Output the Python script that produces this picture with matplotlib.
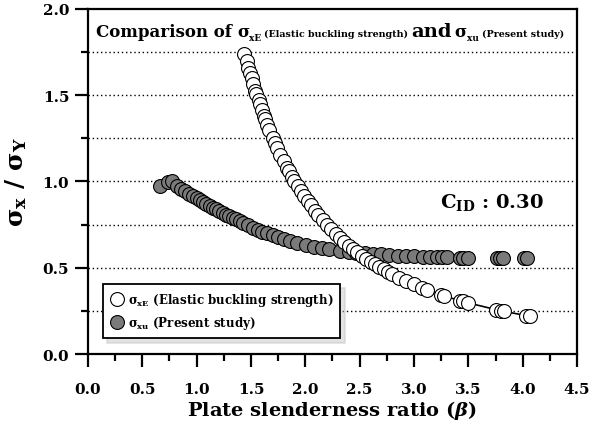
import numpy as np
import matplotlib
matplotlib.use('Agg')
import matplotlib.pyplot as plt
import matplotlib.transforms as mtransforms
from matplotlib.ticker import MultipleLocator

plt.rcParams['font.family'] = 'DejaVu Serif'
plt.rcParams['font.weight'] = 'bold'
plt.rcParams['mathtext.fontset'] = 'dejavuserif'

# sigma_xu / sigma_Y (present study)
beta_xu = [0.66, 0.74, 0.77, 0.82, 0.86, 0.89, 0.93, 0.97, 1.00, 1.03, 1.06, 1.09, 1.12, 1.15,
           1.18, 1.21, 1.24, 1.27, 1.30, 1.33, 1.36, 1.40, 1.43, 1.47, 1.52, 1.56, 1.60, 1.65,
           1.70, 1.75, 1.80, 1.86, 1.92, 2.01, 2.08, 2.15, 2.22, 2.32, 2.40, 2.47, 2.55, 2.62,
           2.70, 2.77, 2.85, 2.93, 3.00, 3.08, 3.15, 3.21, 3.26, 3.30, 3.42, 3.45, 3.50,
           3.76, 3.79, 3.82, 4.01, 4.04]
sig_xu = [0.975, 0.995, 1.000, 0.972, 0.955, 0.945, 0.930, 0.916, 0.903, 0.892, 0.880, 0.868,
          0.858, 0.848, 0.838, 0.828, 0.818, 0.808, 0.798, 0.788, 0.780, 0.770, 0.760, 0.748,
          0.730, 0.720, 0.710, 0.700, 0.690, 0.680, 0.668, 0.655, 0.645, 0.630, 0.622, 0.614,
          0.607, 0.600, 0.593, 0.588, 0.583, 0.580, 0.577, 0.574, 0.571, 0.568, 0.566, 0.565,
          0.563, 0.562, 0.561, 0.560, 0.558, 0.558, 0.557, 0.555, 0.555, 0.555, 0.555, 0.555]

# sigma_xE / sigma_Y (elastic buckling strength)
beta_xE = [1.435, 1.46, 1.47, 1.49, 1.51, 1.52, 1.54, 1.55, 1.57, 1.58, 1.60, 1.62, 1.63, 1.65,
           1.67, 1.70, 1.72, 1.74, 1.77, 1.80, 1.83, 1.85, 1.88, 1.90, 1.93, 1.96, 1.99, 2.02,
           2.05, 2.09, 2.12, 2.16, 2.20, 2.24, 2.28, 2.32, 2.36, 2.40, 2.44, 2.48, 2.52, 2.56,
           2.60, 2.64, 2.68, 2.72, 2.76, 2.80, 2.86, 2.93, 3.00, 3.07, 3.12, 3.25, 3.28,
           3.42, 3.45, 3.50, 3.75, 3.80, 3.83, 4.03, 4.07]
sig_xE = [1.739, 1.700, 1.660, 1.630, 1.600, 1.565, 1.525, 1.505, 1.470, 1.450, 1.415, 1.380,
          1.360, 1.330, 1.300, 1.250, 1.225, 1.195, 1.155, 1.120, 1.080, 1.060, 1.025, 1.003,
          0.975, 0.945, 0.915, 0.888, 0.862, 0.830, 0.805, 0.777, 0.750, 0.722, 0.697, 0.673,
          0.650, 0.628, 0.608, 0.589, 0.570, 0.552, 0.536, 0.520, 0.505, 0.490, 0.476, 0.462,
          0.443, 0.422, 0.403, 0.384, 0.372, 0.343, 0.336, 0.310, 0.305, 0.296, 0.258,
          0.251, 0.247, 0.223, 0.219]

fig = plt.figure(figsize=(5.92, 4.27), dpi=100)
ax = fig.add_axes([0.1486, 0.1686, 0.8261, 0.808])

ax.plot(beta_xu, sig_xu, 'o', ms=10, mfc='#7a7a7a', mec='black', mew=0.8,
        label=r'$\mathbf{\sigma_{xu}}$ (Present study)', zorder=3)
ax.plot(beta_xE, sig_xE, '-', color='black', lw=1.2, zorder=4)
ax.plot(beta_xE, sig_xE, 'o', ms=10, mfc='white', mec='black', mew=0.8,
        label=r'$\mathbf{\sigma_{xE}}$ (Elastic buckling strength)', zorder=5)

ax.set_xlim(0, 4.5)
ax.set_ylim(0, 2.0)
ax.xaxis.set_major_locator(MultipleLocator(0.5))
ax.xaxis.set_minor_locator(MultipleLocator(0.25))
ax.yaxis.set_major_locator(MultipleLocator(0.5))
ax.yaxis.set_minor_locator(MultipleLocator(0.25))
ax.xaxis.set_major_formatter(matplotlib.ticker.FormatStrFormatter('%.1f'))
ax.yaxis.set_major_formatter(matplotlib.ticker.FormatStrFormatter('%.1f'))
ax.tick_params(which='major', direction='out', length=9.5, width=1.6, labelsize=11, pad=4)
ax.tick_params(which='minor', direction='out', length=5, width=1.6)
ax.tick_params(axis='x', which='major', pad=11)
for s in ax.spines.values():
    s.set_linewidth(1.6)

for g in np.arange(0.25, 2.0, 0.25):
    ax.axhline(g, color='black', lw=1.0, ls=(0, (1, 2)), zorder=1)

ax.set_xlabel(r'Plate slenderness ratio ($\mathbfit{\beta}$)', fontsize=14,
              fontweight='bold', labelpad=1)
ax.set_ylabel(r'$\mathbf{\sigma_x\ /\ \sigma_Y}$', fontsize=18, labelpad=10)

h, l = ax.get_legend_handles_labels()
leg = ax.legend(h[::-1], l[::-1], loc='lower left', bbox_to_anchor=(0.03, 0.045),
                prop={'size': 8.6, 'weight': 'bold'}, frameon=True, fancybox=False,
                shadow={'color': '#c8c8c8', 'ox': 3, 'oy': -3},
                edgecolor='black', handletextpad=0.3, borderpad=0.6, labelspacing=0.5,
                handlelength=1.2, borderaxespad=0)
leg.get_frame().set_linewidth(1.3)

ax.text(3.72, 0.885, r'$\mathbf{C_{ID}}$ : 0.30', fontsize=14, ha='center', va='center')

# title made of pieces with different sizes
pieces = [('Comparison of', 12, 0, 5), ('σ', 12, 0, 0), ('xE', 6.5, -2.5, 3),
          ('(Elastic buckling strength)', 6.8, 0, 3), ('and', 14, 0, 3),
          ('σ', 12, 0, 0), ('xu', 6.5, -2.5, 3), ('(Present study)', 6.8, 0, 0)]
r = fig.canvas.get_renderer()
x0, y0 = ax.transData.transform((0.075, 1.843))
ident = mtransforms.IdentityTransform()
cx = x0
for s, size, dy, gap in pieces:
    t = fig.text(cx, y0 + dy * fig.dpi / 72, s, fontsize=size, transform=ident,
                 ha='left', va='baseline')
    cx = t.get_window_extent(r).x1 + gap

fig.savefig('out.png', dpi=100)
